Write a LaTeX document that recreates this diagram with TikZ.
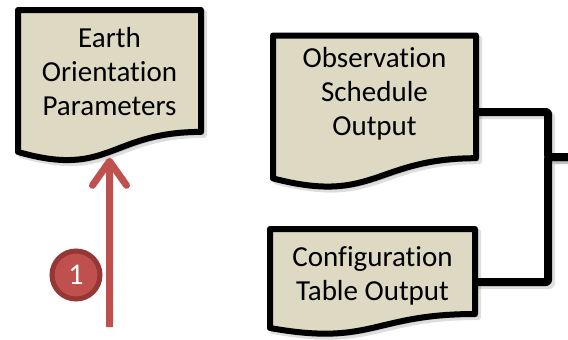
\documentclass[tikz,border=0pt]{standalone}
\usepackage{fontspec}
\setmainfont[RawFeature={-liga;-clig}]{Carlito}
\usetikzlibrary{calc,arrows.meta}
\definecolor{boxfill}{RGB}{221,217,195}
\definecolor{accred}{RGB}{192,80,77}
\definecolor{accdark}{RGB}{150,55,53}
\newcommand\docshape[2]{%
  \draw[#2] (#1.north west) -- (#1.north east)
    -- ($(#1.north east)!0.802!(#1.south east)$)
    .. controls ($(#1.north)!0.802!(#1.south)$) and ($(#1.north)!1.1075!(#1.south)$)
    .. ($(#1.north west)!0.934!(#1.south west)$) -- cycle;}
\begin{document}
\begin{tikzpicture}[x=1pt,y=-1pt,
  docline/.style={draw=black, line width=6pt, line join=round, fill=boxfill},
  docshadow/.style={draw=black, fill=black, line width=6pt, line join=round, opacity=0.13, transform canvas={shift={(3pt,-3pt)}}},
  frame/.style={rectangle, inner sep=0pt, outer sep=0pt},
  doctext/.style={align=center, inner sep=0pt, font=\fontsize{29}{34}\selectfont, anchor=base},
  conn/.style={draw=black, line width=8pt, line join=round, rounded corners=2pt},
  connshadow/.style={conn, opacity=0.13, transform canvas={shift={(3pt,-3pt)}}},
  redarrow/.style={draw=accred, line width=7pt, -{Straight Barb[length=24pt,width=34pt,round]}},
  badge/.style={circle, fill=accred, draw=accdark, line width=5pt, minimum size=48pt, inner sep=0pt, text=white, font=\fontsize{30}{32}\selectfont}
]
\useasboundingbox (0,0) rectangle (568,340);
\node[frame, minimum width=183pt, minimum height=152pt] (eop) at (109.5,86) {};
\node[frame, minimum width=203pt, minimum height=153pt] (obs) at (374.5,112) {};
\node[frame, minimum width=205pt, minimum height=106pt] (cfg) at (372.5,282) {};
\coordinate (j) at (548,157);
\coordinate (out) at (574,157);
\coordinate (a0) at (109.5,327);
\coordinate (a1) at ($(eop.north)!0.933!(eop.south)+(0,6)$);
% shadows
\draw[connshadow] (obs.east) -| (j) -- (out);
\draw[connshadow] (cfg.east) -| (j) -- (out);
\docshape{eop}{docshadow}
\docshape{obs}{docshadow}
\docshape{cfg}{docshadow}
% connectors
\draw[conn] (obs.east) -| (j) -- (out);
\draw[conn] (cfg.east) -| (j) -- (out);
% boxes
\docshape{eop}{docline}
\docshape{obs}{docline}
\docshape{cfg}{docline}
\node[doctext] (eoptxt) at (109.5,115) {Earth\\Orientation\\Parameters};
\node[doctext] (obstxt) at (374.5,135) {Observation\\Schedule\\Output};
\node[doctext] (cfgtxt) at (372.5,300) {Configuration\\Table Output};
% arrow and badge
\draw[redarrow] (a0) -- (a1);
\node[badge] (b1) at (76,275) {1};
\end{tikzpicture}
\end{document}
